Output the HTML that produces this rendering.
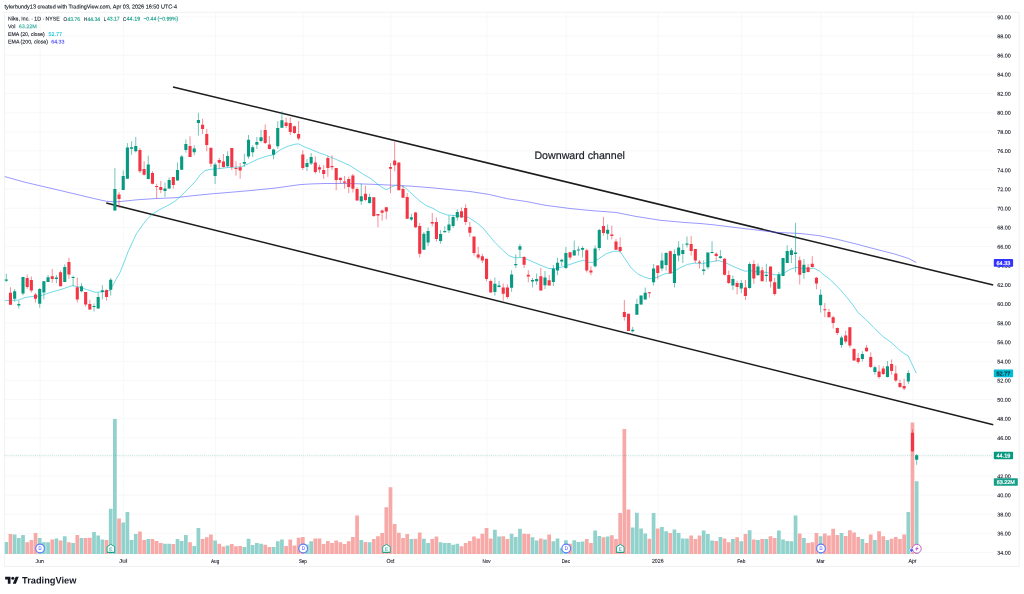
<!DOCTYPE html>
<html><head><meta charset="utf-8"><title>NKE chart</title>
<style>
html,body{margin:0;padding:0;background:#fff;}
body{width:1024px;height:594px;overflow:hidden;font-family:"Liberation Sans",sans-serif;}
svg{display:block;filter:blur(0.35px);}
text{font-family:"Liberation Sans",sans-serif;}
</style></head><body>
<svg width="1024" height="594" viewBox="0 0 1024 594">
<rect width="1024" height="594" fill="#ffffff"/>

<rect x="4.7" y="12.2" width="1014.4" height="554.4" fill="none" stroke="#ebecef" stroke-width="0.75"/>
<path d="M40.11 12.3V554.5 M123.63 12.3V554.5 M215.50 12.3V554.5 M303.20 12.3V554.5 M390.89 12.3V554.5 M486.94 12.3V554.5 M566.28 12.3V554.5 M658.16 12.3V554.5 M741.68 12.3V554.5 M821.02 12.3V554.5 M912.89 12.3V554.5 M4.8 552.50H993 M4.8 533.38H993 M4.8 514.25H993 M4.8 495.12H993 M4.8 476.00H993 M4.8 456.88H993 M4.8 437.75H993 M4.8 418.62H993 M4.8 399.50H993 M4.8 380.38H993 M4.8 361.25H993 M4.8 342.12H993 M4.8 323.00H993 M4.8 303.88H993 M4.8 284.75H993 M4.8 265.62H993 M4.8 246.50H993 M4.8 227.38H993 M4.8 208.25H993 M4.8 189.12H993 M4.8 170.00H993 M4.8 150.88H993 M4.8 131.75H993 M4.8 112.62H993 M4.8 93.50H993 M4.8 74.38H993 M4.8 55.25H993 M4.8 36.12H993 M4.8 17.00H993" stroke="#f4f5f8" stroke-width="0.7" fill="none"/>
<path d="M4.80 554.1V541.88h3.36V554.1zM12.79 554.1V534.62h3.72V554.1zM16.97 554.1V537.88h3.72V554.1zM21.14 554.1V535.00h3.72V554.1zM37.85 554.1V537.88h3.72V554.1zM42.02 554.1V542.25h3.72V554.1zM46.20 554.1V542.25h3.72V554.1zM54.55 554.1V538.50h3.72V554.1zM62.90 554.1V536.25h3.72V554.1zM71.26 554.1V543.12h3.72V554.1zM79.61 554.1V538.12h3.72V554.1zM92.14 554.1V531.88h3.72V554.1zM96.31 554.1V535.62h3.72V554.1zM100.49 554.1V539.62h3.72V554.1zM108.84 554.1V508.75h3.72V554.1zM113.02 554.1V419.00h3.72V554.1zM121.37 554.1V522.50h3.72V554.1zM125.54 554.1V511.88h3.72V554.1zM129.72 554.1V540.00h3.72V554.1zM133.90 554.1V534.00h3.72V554.1zM146.42 554.1V539.12h3.72V554.1zM163.13 554.1V543.75h3.72V554.1zM167.30 554.1V543.75h3.72V554.1zM175.66 554.1V539.12h3.72V554.1zM179.83 554.1V541.00h3.72V554.1zM184.01 554.1V535.00h3.72V554.1zM192.36 554.1V546.00h3.72V554.1zM196.54 554.1V527.88h3.72V554.1zM213.24 554.1V540.38h3.72V554.1zM225.77 554.1V545.62h3.72V554.1zM242.47 554.1V546.88h3.72V554.1zM246.65 554.1V538.75h3.72V554.1zM250.82 554.1V545.00h3.72V554.1zM255.00 554.1V543.12h3.72V554.1zM259.18 554.1V543.75h3.72V554.1zM271.70 554.1V546.88h3.72V554.1zM275.88 554.1V541.25h3.72V554.1zM280.06 554.1V539.62h3.72V554.1zM305.11 554.1V544.38h3.72V554.1zM309.29 554.1V541.25h3.72V554.1zM359.40 554.1V540.00h3.72V554.1zM367.75 554.1V542.25h3.72V554.1zM409.51 554.1V539.12h3.72V554.1zM422.04 554.1V538.75h3.72V554.1zM426.22 554.1V543.12h3.72V554.1zM438.74 554.1V542.25h3.72V554.1zM442.92 554.1V543.12h3.72V554.1zM447.10 554.1V542.88h3.72V554.1zM451.27 554.1V544.75h3.72V554.1zM455.45 554.1V543.75h3.72V554.1zM493.03 554.1V529.75h3.72V554.1zM497.21 554.1V536.50h3.72V554.1zM509.74 554.1V533.75h3.72V554.1zM513.91 554.1V537.12h3.72V554.1zM518.09 554.1V528.75h3.72V554.1zM530.62 554.1V537.25h3.72V554.1zM534.79 554.1V540.38h3.72V554.1zM543.14 554.1V539.62h3.72V554.1zM551.50 554.1V541.25h3.72V554.1zM555.67 554.1V538.38h3.72V554.1zM559.85 554.1V548.12h3.72V554.1zM564.02 554.1V540.25h3.72V554.1zM572.38 554.1V540.25h3.72V554.1zM576.55 554.1V542.12h3.72V554.1zM580.73 554.1V541.50h3.72V554.1zM593.26 554.1V530.62h3.72V554.1zM597.43 554.1V535.88h3.72V554.1zM605.78 554.1V536.50h3.72V554.1zM630.84 554.1V527.50h3.72V554.1zM635.02 554.1V512.75h3.72V554.1zM639.19 554.1V528.50h3.72V554.1zM643.37 554.1V533.38h3.72V554.1zM651.72 554.1V513.12h3.72V554.1zM660.07 554.1V527.12h3.72V554.1zM664.25 554.1V531.25h3.72V554.1zM672.60 554.1V529.38h3.72V554.1zM676.78 554.1V533.12h3.72V554.1zM680.95 554.1V538.38h3.72V554.1zM685.13 554.1V538.38h3.72V554.1zM701.83 554.1V530.62h3.72V554.1zM706.01 554.1V534.12h3.72V554.1zM710.18 554.1V540.62h3.72V554.1zM718.54 554.1V537.12h3.72V554.1zM731.06 554.1V539.12h3.72V554.1zM739.42 554.1V541.25h3.72V554.1zM747.77 554.1V530.25h3.72V554.1zM756.12 554.1V540.00h3.72V554.1zM764.47 554.1V539.12h3.72V554.1zM777.00 554.1V530.62h3.72V554.1zM781.18 554.1V539.62h3.72V554.1zM785.35 554.1V541.00h3.72V554.1zM789.53 554.1V541.25h3.72V554.1zM793.70 554.1V515.62h3.72V554.1zM802.06 554.1V537.88h3.72V554.1zM818.76 554.1V536.25h3.72V554.1zM839.64 554.1V533.12h3.72V554.1zM860.52 554.1V539.12h3.72V554.1zM873.05 554.1V540.00h3.72V554.1zM885.58 554.1V540.00h3.72V554.1zM906.46 554.1V512.12h3.72V554.1zM914.81 554.1V481.25h3.72V554.1z" fill="#92d2cc"/>
<path d="M8.62 554.1V534.00h3.72V554.1zM25.32 554.1V542.25h3.72V554.1zM29.50 554.1V540.00h3.72V554.1zM33.67 554.1V533.12h3.72V554.1zM50.38 554.1V539.38h3.72V554.1zM58.73 554.1V540.38h3.72V554.1zM67.08 554.1V542.25h3.72V554.1zM75.43 554.1V535.00h3.72V554.1zM83.78 554.1V538.12h3.72V554.1zM87.96 554.1V537.75h3.72V554.1zM104.66 554.1V540.00h3.72V554.1zM117.19 554.1V518.50h3.72V554.1zM138.07 554.1V531.50h3.72V554.1zM142.25 554.1V540.00h3.72V554.1zM150.60 554.1V539.12h3.72V554.1zM154.78 554.1V541.00h3.72V554.1zM158.95 554.1V543.12h3.72V554.1zM171.48 554.1V544.12h3.72V554.1zM188.18 554.1V542.25h3.72V554.1zM200.71 554.1V539.12h3.72V554.1zM204.89 554.1V537.25h3.72V554.1zM209.06 554.1V534.62h3.72V554.1zM217.42 554.1V543.75h3.72V554.1zM221.59 554.1V546.50h3.72V554.1zM229.94 554.1V544.00h3.72V554.1zM234.12 554.1V546.25h3.72V554.1zM238.30 554.1V545.88h3.72V554.1zM263.35 554.1V544.75h3.72V554.1zM267.53 554.1V546.88h3.72V554.1zM284.23 554.1V545.88h3.72V554.1zM288.41 554.1V539.62h3.72V554.1zM292.58 554.1V545.38h3.72V554.1zM296.76 554.1V537.75h3.72V554.1zM300.94 554.1V537.12h3.72V554.1zM313.46 554.1V538.38h3.72V554.1zM317.64 554.1V538.38h3.72V554.1zM321.82 554.1V544.00h3.72V554.1zM325.99 554.1V541.00h3.72V554.1zM330.17 554.1V543.12h3.72V554.1zM334.34 554.1V540.38h3.72V554.1zM338.52 554.1V542.25h3.72V554.1zM342.70 554.1V544.00h3.72V554.1zM346.87 554.1V541.25h3.72V554.1zM351.05 554.1V537.12h3.72V554.1zM355.22 554.1V515.62h3.72V554.1zM363.58 554.1V541.88h3.72V554.1zM371.93 554.1V539.00h3.72V554.1zM376.10 554.1V536.25h3.72V554.1zM380.28 554.1V533.12h3.72V554.1zM384.46 554.1V507.25h3.72V554.1zM388.63 554.1V487.25h3.72V554.1zM392.81 554.1V524.00h3.72V554.1zM396.98 554.1V532.75h3.72V554.1zM401.16 554.1V538.12h3.72V554.1zM405.34 554.1V534.12h3.72V554.1zM413.69 554.1V538.75h3.72V554.1zM417.86 554.1V532.50h3.72V554.1zM430.39 554.1V539.12h3.72V554.1zM434.57 554.1V536.50h3.72V554.1zM459.62 554.1V546.25h3.72V554.1zM463.80 554.1V543.12h3.72V554.1zM467.98 554.1V541.00h3.72V554.1zM472.15 554.1V536.50h3.72V554.1zM476.33 554.1V538.50h3.72V554.1zM480.50 554.1V533.75h3.72V554.1zM484.68 554.1V527.88h3.72V554.1zM488.86 554.1V538.38h3.72V554.1zM501.38 554.1V536.25h3.72V554.1zM505.56 554.1V539.12h3.72V554.1zM522.26 554.1V533.75h3.72V554.1zM526.44 554.1V534.12h3.72V554.1zM538.97 554.1V538.38h3.72V554.1zM547.32 554.1V534.62h3.72V554.1zM568.20 554.1V543.75h3.72V554.1zM584.90 554.1V539.12h3.72V554.1zM589.08 554.1V543.12h3.72V554.1zM601.61 554.1V537.25h3.72V554.1zM609.96 554.1V535.25h3.72V554.1zM614.14 554.1V539.00h3.72V554.1zM618.31 554.1V513.12h3.72V554.1zM622.49 554.1V429.00h3.72V554.1zM626.66 554.1V509.62h3.72V554.1zM647.54 554.1V538.75h3.72V554.1zM655.90 554.1V528.50h3.72V554.1zM668.42 554.1V532.88h3.72V554.1zM689.30 554.1V535.62h3.72V554.1zM693.48 554.1V539.00h3.72V554.1zM697.66 554.1V535.62h3.72V554.1zM714.36 554.1V541.00h3.72V554.1zM722.71 554.1V538.38h3.72V554.1zM726.89 554.1V542.25h3.72V554.1zM735.24 554.1V537.25h3.72V554.1zM743.59 554.1V534.00h3.72V554.1zM751.94 554.1V539.62h3.72V554.1zM760.30 554.1V539.12h3.72V554.1zM768.65 554.1V536.25h3.72V554.1zM772.82 554.1V538.12h3.72V554.1zM797.88 554.1V533.50h3.72V554.1zM806.23 554.1V543.12h3.72V554.1zM810.41 554.1V542.25h3.72V554.1zM814.58 554.1V533.12h3.72V554.1zM822.94 554.1V533.50h3.72V554.1zM827.11 554.1V535.62h3.72V554.1zM831.29 554.1V528.75h3.72V554.1zM835.46 554.1V535.00h3.72V554.1zM843.82 554.1V536.00h3.72V554.1zM847.99 554.1V530.25h3.72V554.1zM852.17 554.1V532.50h3.72V554.1zM856.34 554.1V537.12h3.72V554.1zM864.70 554.1V542.88h3.72V554.1zM868.87 554.1V534.38h3.72V554.1zM877.22 554.1V531.25h3.72V554.1zM881.40 554.1V536.25h3.72V554.1zM889.75 554.1V538.75h3.72V554.1zM893.93 554.1V537.12h3.72V554.1zM898.10 554.1V539.12h3.72V554.1zM902.28 554.1V534.38h3.72V554.1zM910.63 554.1V422.50h3.72V554.1z" fill="#f7a9a7"/>
<path d="M4.8 455.3H993" stroke="#089981" stroke-width="0.7" stroke-dasharray="0.8 1.1" opacity="0.45" fill="none"/>
<path d="M173 87L993.25 285M106.25 203L993.25 424.75" stroke="#1c1c1c" stroke-width="1.55" fill="none" stroke-linecap="butt"/>
<path d="M4.75 176.60 L25.00 182.25 L50.00 188.10 L75.00 194.00 L93.75 198.50 L106.25 201.25 L112.50 201.70 L118.00 201.80 L125.00 201.00 L137.50 199.75 L156.25 198.50 L175.00 197.75 L193.75 195.60 L212.50 193.75 L225.00 192.75 L250.00 190.60 L275.00 188.10 L300.00 184.60 L312.00 183.90 L325.00 183.50 L350.00 183.50 L375.00 184.40 L393.75 185.25 L412.50 186.25 L428.00 187.50 L435.00 188.10 L460.00 190.60 L470.00 191.50 L488.75 194.40 L507.50 198.75 L526.25 201.50 L545.00 205.25 L570.00 208.50 L585.00 210.00 L598.00 211.10 L616.25 212.50 L635.00 216.25 L660.00 220.25 L685.00 222.50 L700.00 223.50 L713.00 224.75 L737.50 227.75 L775.00 232.25 L800.00 233.50 L818.75 235.60 L837.50 239.40 L856.25 244.00 L875.00 249.00 L893.75 253.75 L908.75 258.50 L916.25 262.50" stroke="#4a4aff" stroke-width="0.75" fill="none" opacity="0.75" stroke-linejoin="round"/>
<path d="M4.75 300.60 L18.75 300.00 L25.00 297.50 L32.50 296.50 L40.00 296.00 L50.00 292.50 L60.00 289.75 L72.50 285.60 L80.00 287.25 L87.50 289.75 L95.00 292.25 L102.50 291.90 L110.00 290.60 L115.00 281.25 L120.00 272.50 L125.00 260.00 L128.00 251.90 L136.25 234.00 L142.50 225.00 L147.50 218.75 L152.50 214.00 L160.00 209.40 L167.50 205.60 L175.00 201.25 L180.00 196.90 L187.50 189.40 L195.00 181.90 L200.00 175.00 L205.00 170.60 L210.00 169.40 L217.50 168.75 L228.50 167.50 L241.00 166.90 L248.50 163.75 L257.25 159.40 L266.00 156.25 L273.50 154.75 L281.00 149.40 L288.50 146.00 L296.00 144.00 L299.00 144.00 L303.50 146.50 L311.00 149.40 L319.75 153.10 L325.00 154.75 L337.50 160.00 L350.00 165.60 L362.50 173.75 L371.25 179.00 L380.00 186.00 L386.25 189.75 L391.25 187.25 L396.25 185.00 L400.00 185.25 L405.00 187.50 L412.50 194.40 L420.00 201.25 L426.25 205.60 L432.50 208.10 L440.00 212.50 L447.50 215.00 L455.00 215.60 L462.50 216.25 L468.75 217.50 L476.25 222.50 L482.50 227.50 L488.75 235.00 L495.00 242.50 L502.50 250.00 L508.75 255.60 L515.00 257.75 L522.50 257.50 L530.00 260.60 L540.00 265.00 L548.75 268.50 L555.00 268.50 L562.50 266.90 L570.00 264.40 L577.50 261.90 L583.10 260.25 L588.75 262.25 L592.50 262.50 L598.75 258.75 L606.25 253.75 L613.75 251.25 L620.00 251.25 L625.00 258.75 L631.25 268.10 L637.50 273.75 L643.75 276.90 L650.00 278.75 L656.25 277.50 L665.00 273.75 L672.50 272.50 L680.00 267.75 L687.50 264.40 L695.00 263.10 L702.50 263.75 L710.00 261.90 L718.75 260.60 L725.00 262.50 L735.00 267.25 L745.00 271.25 L750.00 270.60 L757.50 271.90 L767.50 272.50 L775.00 275.00 L782.50 274.00 L790.00 269.40 L795.60 267.25 L800.00 268.10 L807.50 268.75 L813.75 268.10 L820.00 271.25 L822.50 273.75 L830.00 279.40 L837.50 286.90 L845.00 295.00 L852.50 304.40 L858.00 312.50 L866.25 320.00 L873.75 327.50 L882.50 336.25 L891.25 342.50 L898.75 349.40 L903.75 353.50 L908.10 355.60 L911.25 362.50 L916.25 373.10" stroke="#22c4dc" stroke-width="0.8" fill="none" opacity="0.8" stroke-linejoin="round"/>
<path d="M6.30 273.75V282.25M14.65 289.00V301.88M18.83 300.62V308.50M23.00 276.88V295.25M39.71 288.12V307.75M43.88 281.25V299.38M48.06 275.00V281.88M56.41 275.00V283.12M64.76 264.38V281.88M73.12 275.62V286.25M81.47 283.12V292.25M94.00 303.50V311.50M98.17 292.50V309.00M102.35 285.25V299.38M110.70 278.12V295.62M114.88 168.10V210.60M123.23 170.60V190.00M127.40 143.10V178.75M131.58 141.25V154.75M135.76 136.90V152.50M148.28 155.60V179.40M164.99 182.50V196.90M169.16 177.50V189.00M177.52 162.50V180.60M181.69 155.00V169.75M185.87 139.40V152.75M194.22 145.25V155.25M198.40 112.75V135.60M215.10 162.50V184.00M227.63 151.25V167.50M244.33 153.75V166.90M248.51 135.00V158.75M252.68 145.25V156.90M256.86 136.90V149.00M261.04 129.75V142.50M273.56 148.75V159.40M277.74 121.00V148.75M281.92 111.25V127.75M306.97 159.00V171.00M311.15 153.10V165.00M361.26 183.75V204.75M369.61 193.75V203.75M411.37 213.75V221.00M423.90 231.90V250.00M428.08 227.50V246.00M440.60 230.00V243.75M444.78 226.25V232.50M448.96 215.60V233.00M453.13 215.00V227.75M457.31 209.40V220.60M494.89 277.50V295.60M499.07 281.00V287.50M511.60 270.25V291.90M515.77 254.40V268.00M519.95 244.00V257.25M532.48 278.00V287.50M536.65 273.50V284.75M545.00 271.00V289.00M553.36 265.00V286.00M557.53 257.75V275.25M561.71 258.75V266.00M565.88 246.90V269.00M574.24 240.60V255.60M578.41 246.25V255.60M582.59 246.25V257.50M595.12 245.60V267.50M599.29 228.75V250.60M607.64 224.40V239.75M632.70 326.90V332.50M636.88 298.75V314.75M641.05 295.60V305.00M645.23 287.50V299.40M653.58 264.00V285.60M661.93 252.75V271.25M666.11 252.25V270.60M674.46 249.40V287.50M678.64 241.25V261.50M682.81 243.75V263.00M686.99 236.50V247.50M703.69 260.25V275.00M707.87 252.50V269.40M712.04 241.25V253.50M720.40 250.00V258.75M732.92 275.60V290.00M741.28 280.00V293.10M749.63 262.25V288.75M757.98 263.50V275.60M766.33 263.75V281.90M778.86 271.90V288.75M783.04 258.10V276.00M787.21 245.25V263.10M791.39 248.10V263.10M795.56 222.75V272.25M803.92 259.00V278.75M820.62 289.40V312.50M841.50 335.60V347.75M862.38 351.25V361.50M874.91 365.60V374.75M887.44 361.00V377.50M908.32 370.25V383.75M916.67 454.00V464.75" stroke="#089981" stroke-width="0.7" fill="none" opacity="0.8"/>
<path d="M10.48 287.25V304.75M27.18 274.38V288.75M31.36 276.50V292.50M35.53 293.12V302.50M52.24 269.00V282.75M60.59 270.62V286.25M68.94 257.75V278.75M77.29 277.50V302.50M85.64 291.88V306.50M89.82 300.00V310.00M106.52 289.38V300.62M119.05 191.90V208.10M139.93 148.10V173.10M144.11 161.25V175.60M152.46 171.25V184.40M156.64 183.75V198.50M160.81 181.00V193.10M173.34 176.90V188.50M190.04 136.25V156.90M202.57 118.75V134.00M206.75 129.00V151.25M210.92 147.75V166.90M219.28 157.75V168.75M223.45 154.00V167.50M231.80 148.10V170.00M235.98 161.25V175.60M240.16 162.75V178.75M265.21 124.40V144.00M269.39 136.00V149.40M286.09 117.50V128.10M290.27 117.25V135.00M294.44 125.60V134.00M298.62 121.00V140.25M302.80 150.25V170.00M315.32 156.50V173.75M319.50 164.75V172.75M323.68 165.00V179.00M327.85 156.00V176.90M332.03 155.25V170.00M336.20 167.90V190.25M340.38 177.75V183.50M344.56 176.00V188.75M348.73 176.50V193.10M352.91 174.00V192.50M357.08 187.25V200.60M365.44 185.60V201.25M373.79 197.25V216.90M377.96 214.10V227.25M382.14 209.40V220.60M386.32 206.90V219.40M390.49 163.10V193.10M394.67 141.90V171.25M398.84 162.50V190.25M403.02 185.25V198.10M407.20 193.10V218.75M415.55 211.90V228.10M419.72 223.00V257.50M432.25 213.00V226.25M436.43 217.50V241.50M461.48 207.50V218.00M465.66 204.40V225.00M469.84 221.90V236.90M474.01 236.50V255.60M478.19 246.90V259.40M482.36 253.75V263.10M486.54 258.75V281.25M490.72 279.40V292.50M503.24 283.50V300.60M507.42 284.40V298.75M524.12 256.00V268.00M528.30 270.25V282.25M540.83 267.75V290.60M549.18 275.00V285.60M570.06 251.90V259.75M586.76 248.75V272.50M590.94 266.25V275.25M603.47 216.90V235.60M611.82 225.60V239.40M616.00 239.00V249.75M620.17 237.25V252.50M624.35 300.00V320.60M628.52 313.75V331.00M649.40 292.25V297.75M657.76 265.00V279.40M670.28 250.25V273.50M691.16 236.00V255.60M695.34 249.00V263.00M699.52 260.00V268.50M716.22 252.25V261.25M724.57 258.10V275.60M728.75 270.60V284.00M737.10 280.60V294.40M745.45 280.00V300.00M753.80 260.25V283.75M762.16 266.90V281.25M770.51 266.50V287.50M774.68 277.75V295.60M799.74 256.50V284.40M808.09 263.75V272.50M812.27 256.00V267.50M816.44 276.90V289.40M824.80 303.10V317.25M828.97 309.00V317.25M833.15 316.00V328.50M837.32 327.50V335.00M845.68 330.60V343.50M849.85 327.25V347.75M854.03 348.10V360.60M858.20 353.10V363.75M866.56 345.00V351.90M870.73 352.25V368.10M879.08 365.25V378.75M883.26 366.00V375.00M891.61 359.40V374.75M895.79 365.60V381.90M899.96 379.75V388.10M904.14 378.75V390.25M912.49 429.40V452.00" stroke="#f23645" stroke-width="0.7" fill="none" opacity="0.8"/>
<path d="M4.75 279.50h3.1V280.75h-3.1zM13.10 291.25h3.1V298.75h-3.1zM17.28 304.00h3.1V305.50h-3.1zM21.45 276.88h3.1V293.50h-3.1zM38.16 289.00h3.1V303.75h-3.1zM42.33 281.25h3.1V292.50h-3.1zM46.51 277.25h3.1V281.88h-3.1zM54.86 277.50h3.1V279.00h-3.1zM63.21 267.12h3.1V281.88h-3.1zM71.57 276.88h3.1V278.12h-3.1zM79.92 286.25h3.1V291.25h-3.1zM92.45 305.88h3.1V306.88h-3.1zM96.62 297.12h3.1V308.50h-3.1zM100.80 290.25h3.1V291.88h-3.1zM109.15 279.75h3.1V289.75h-3.1zM113.33 189.00h3.1V210.60h-3.1zM121.68 176.00h3.1V190.00h-3.1zM125.85 147.50h3.1V178.75h-3.1zM130.03 147.25h3.1V148.75h-3.1zM134.21 146.00h3.1V151.25h-3.1zM146.73 164.40h3.1V179.00h-3.1zM163.44 188.50h3.1V191.00h-3.1zM167.61 180.00h3.1V188.50h-3.1zM175.97 170.00h3.1V180.60h-3.1zM180.14 156.50h3.1V169.75h-3.1zM184.32 144.00h3.1V150.00h-3.1zM192.67 148.50h3.1V152.25h-3.1zM196.85 120.00h3.1V122.90h-3.1zM213.55 164.40h3.1V176.00h-3.1zM226.08 156.00h3.1V166.25h-3.1zM242.78 161.90h3.1V163.75h-3.1zM246.96 139.75h3.1V156.50h-3.1zM251.13 147.25h3.1V152.25h-3.1zM255.31 141.90h3.1V144.75h-3.1zM259.49 137.25h3.1V141.00h-3.1zM272.01 149.40h3.1V154.75h-3.1zM276.19 128.10h3.1V146.25h-3.1zM280.37 120.25h3.1V127.75h-3.1zM305.42 163.10h3.1V166.90h-3.1zM309.60 156.90h3.1V163.50h-3.1zM359.71 196.25h3.1V201.25h-3.1zM368.06 196.90h3.1V203.10h-3.1zM409.82 217.25h3.1V219.40h-3.1zM422.35 233.75h3.1V249.75h-3.1zM426.53 231.00h3.1V242.50h-3.1zM439.05 234.00h3.1V241.00h-3.1zM443.23 231.00h3.1V232.25h-3.1zM447.41 224.40h3.1V230.60h-3.1zM451.58 216.90h3.1V226.00h-3.1zM455.76 211.90h3.1V217.50h-3.1zM493.34 283.75h3.1V291.90h-3.1zM497.52 285.60h3.1V286.90h-3.1zM510.05 274.40h3.1V287.75h-3.1zM514.22 264.00h3.1V265.25h-3.1zM518.40 246.25h3.1V249.75h-3.1zM530.93 280.00h3.1V281.50h-3.1zM535.10 279.00h3.1V281.25h-3.1zM543.45 277.50h3.1V285.25h-3.1zM551.81 268.75h3.1V281.90h-3.1zM555.98 262.75h3.1V270.60h-3.1zM560.16 259.75h3.1V261.50h-3.1zM564.33 253.10h3.1V268.10h-3.1zM572.69 250.25h3.1V255.60h-3.1zM576.86 249.40h3.1V250.60h-3.1zM581.04 248.10h3.1V249.75h-3.1zM593.57 248.50h3.1V266.25h-3.1zM597.74 230.00h3.1V248.10h-3.1zM606.09 229.75h3.1V233.75h-3.1zM631.15 329.75h3.1V331.25h-3.1zM635.33 304.00h3.1V314.75h-3.1zM639.50 295.60h3.1V304.40h-3.1zM643.68 292.75h3.1V299.40h-3.1zM652.03 268.50h3.1V282.25h-3.1zM660.38 260.60h3.1V268.50h-3.1zM664.56 253.10h3.1V265.00h-3.1zM672.91 254.00h3.1V283.10h-3.1zM677.09 247.50h3.1V255.60h-3.1zM681.26 250.00h3.1V254.00h-3.1zM685.44 243.50h3.1V244.75h-3.1zM702.14 269.40h3.1V271.00h-3.1zM706.32 252.50h3.1V267.25h-3.1zM710.49 251.90h3.1V253.10h-3.1zM718.85 256.25h3.1V258.10h-3.1zM731.37 279.00h3.1V285.60h-3.1zM739.73 283.10h3.1V288.50h-3.1zM748.08 264.00h3.1V288.10h-3.1zM756.43 266.50h3.1V275.25h-3.1zM764.78 274.75h3.1V276.00h-3.1zM777.31 274.40h3.1V288.75h-3.1zM781.49 258.10h3.1V276.00h-3.1zM785.66 251.00h3.1V263.10h-3.1zM789.84 250.25h3.1V255.00h-3.1zM794.01 252.50h3.1V254.00h-3.1zM802.37 264.75h3.1V273.10h-3.1zM819.07 294.75h3.1V305.25h-3.1zM839.95 337.50h3.1V345.00h-3.1zM860.83 354.00h3.1V359.00h-3.1zM873.36 367.25h3.1V371.90h-3.1zM885.89 366.25h3.1V376.90h-3.1zM906.77 373.10h3.1V381.50h-3.1zM915.12 455.25h3.1V459.75h-3.1z" fill="#089981"/>
<path d="M8.93 292.75h3.1V304.75h-3.1zM25.63 278.12h3.1V286.88h-3.1zM29.81 280.00h3.1V290.62h-3.1zM33.98 294.38h3.1V298.75h-3.1zM50.69 276.25h3.1V279.00h-3.1zM59.04 272.25h3.1V286.25h-3.1zM67.39 262.00h3.1V274.62h-3.1zM75.74 287.25h3.1V299.38h-3.1zM84.09 291.88h3.1V304.38h-3.1zM88.27 304.00h3.1V309.38h-3.1zM104.97 290.00h3.1V296.88h-3.1zM117.50 194.40h3.1V199.00h-3.1zM138.38 150.00h3.1V171.25h-3.1zM142.56 169.00h3.1V174.75h-3.1zM150.91 173.10h3.1V183.75h-3.1zM155.09 185.90h3.1V187.10h-3.1zM159.26 186.90h3.1V190.00h-3.1zM171.79 176.90h3.1V185.00h-3.1zM188.49 146.00h3.1V156.90h-3.1zM201.02 124.75h3.1V129.00h-3.1zM205.20 134.00h3.1V145.00h-3.1zM209.37 147.75h3.1V163.75h-3.1zM217.73 160.00h3.1V162.75h-3.1zM221.90 161.50h3.1V166.90h-3.1zM230.25 148.10h3.1V166.90h-3.1zM234.43 167.90h3.1V169.00h-3.1zM238.61 167.25h3.1V170.60h-3.1zM263.66 130.00h3.1V143.10h-3.1zM267.84 144.40h3.1V149.00h-3.1zM284.54 122.50h3.1V126.00h-3.1zM288.72 123.10h3.1V131.90h-3.1zM292.89 126.25h3.1V133.10h-3.1zM297.07 134.00h3.1V138.50h-3.1zM301.25 154.40h3.1V167.90h-3.1zM313.77 162.50h3.1V171.90h-3.1zM317.95 167.25h3.1V169.40h-3.1zM322.13 170.00h3.1V174.00h-3.1zM326.30 158.10h3.1V168.10h-3.1zM330.48 166.00h3.1V167.25h-3.1zM334.65 167.90h3.1V180.00h-3.1zM338.83 177.75h3.1V180.00h-3.1zM343.01 181.50h3.1V182.75h-3.1zM347.18 179.00h3.1V186.90h-3.1zM351.36 175.60h3.1V188.75h-3.1zM355.53 189.00h3.1V200.60h-3.1zM363.89 193.75h3.1V200.00h-3.1zM372.24 197.25h3.1V216.00h-3.1zM376.41 214.10h3.1V215.60h-3.1zM380.59 210.60h3.1V212.75h-3.1zM384.77 207.25h3.1V211.50h-3.1zM388.94 166.90h3.1V168.75h-3.1zM393.12 160.60h3.1V165.25h-3.1zM397.29 162.50h3.1V190.25h-3.1zM401.47 189.00h3.1V197.75h-3.1zM405.65 196.90h3.1V218.75h-3.1zM414.00 212.50h3.1V227.25h-3.1zM418.17 226.00h3.1V253.75h-3.1zM430.70 221.90h3.1V223.50h-3.1zM434.88 221.90h3.1V239.00h-3.1zM459.93 211.25h3.1V217.50h-3.1zM464.11 208.00h3.1V221.90h-3.1zM468.29 226.90h3.1V232.75h-3.1zM472.46 236.50h3.1V253.10h-3.1zM476.64 254.40h3.1V257.50h-3.1zM480.81 256.25h3.1V260.60h-3.1zM484.99 258.75h3.1V279.00h-3.1zM489.17 281.00h3.1V292.50h-3.1zM501.69 287.50h3.1V293.75h-3.1zM505.87 287.50h3.1V296.90h-3.1zM522.57 256.90h3.1V264.75h-3.1zM526.75 274.75h3.1V276.50h-3.1zM539.28 276.25h3.1V290.60h-3.1zM547.63 280.25h3.1V285.60h-3.1zM568.51 252.25h3.1V257.50h-3.1zM585.21 250.25h3.1V270.60h-3.1zM589.39 270.60h3.1V272.50h-3.1zM601.92 226.00h3.1V233.10h-3.1zM610.27 234.40h3.1V236.00h-3.1zM614.45 241.50h3.1V249.75h-3.1zM618.62 246.90h3.1V251.00h-3.1zM622.80 311.90h3.1V316.90h-3.1zM626.97 313.75h3.1V331.00h-3.1zM647.85 292.18h3.1V293.18h-3.1zM656.21 265.60h3.1V273.10h-3.1zM668.73 251.25h3.1V273.50h-3.1zM689.61 244.00h3.1V251.00h-3.1zM693.79 249.00h3.1V260.60h-3.1zM697.97 261.82h3.1V262.82h-3.1zM714.67 253.75h3.1V256.00h-3.1zM723.02 258.75h3.1V274.75h-3.1zM727.20 275.00h3.1V283.10h-3.1zM735.55 282.90h3.1V286.90h-3.1zM743.90 287.50h3.1V296.00h-3.1zM752.25 264.00h3.1V278.50h-3.1zM760.61 270.25h3.1V281.25h-3.1zM768.96 266.50h3.1V281.50h-3.1zM773.13 282.25h3.1V294.00h-3.1zM798.19 260.25h3.1V274.75h-3.1zM806.54 267.25h3.1V271.90h-3.1zM810.72 263.75h3.1V266.90h-3.1zM814.89 277.75h3.1V283.50h-3.1zM823.25 309.32h3.1V310.32h-3.1zM827.42 311.90h3.1V317.25h-3.1zM831.60 317.25h3.1V323.10h-3.1zM835.77 328.10h3.1V333.10h-3.1zM844.13 335.60h3.1V341.50h-3.1zM848.30 327.25h3.1V345.60h-3.1zM852.48 349.00h3.1V360.60h-3.1zM856.65 358.10h3.1V361.90h-3.1zM865.01 347.75h3.1V351.25h-3.1zM869.18 356.90h3.1V366.90h-3.1zM877.53 371.50h3.1V376.90h-3.1zM881.71 368.50h3.1V374.00h-3.1zM890.06 364.00h3.1V371.00h-3.1zM894.24 373.50h3.1V380.60h-3.1zM898.41 383.10h3.1V386.90h-3.1zM902.59 386.00h3.1V388.50h-3.1zM910.94 432.75h3.1V451.25h-3.1z" fill="#f23645"/>
<text x="534.4" y="159" font-size="10.8" fill="#1a1d26" stroke="#1a1d26" stroke-width="0.2" textLength="90.6" lengthAdjust="spacingAndGlyphs" transform="rotate(0.03 534.4 159)">Downward channel</text>
<text x="4.6" y="8.45" font-size="5.6" fill="#131722" textLength="172.4" lengthAdjust="spacingAndGlyphs" stroke="#131722" stroke-width="0.1" transform="rotate(0.03 4.6 8.45)">tylerbundy13 created with TradingView.com, Apr 03, 2026 16:50 UTC-4</text>
<text x="8.1" y="20.6" font-size="5.4" fill="#131722" textLength="51.6" lengthAdjust="spacingAndGlyphs" stroke="#131722" stroke-width="0.1" transform="rotate(0.03 8.1 20.6)">Nike, Inc. · 1D · NYSE</text>
<text x="63.5" y="20.6" font-size="5.4" fill="#131722" textLength="3.4" lengthAdjust="spacingAndGlyphs" stroke="#131722" stroke-width="0.1" transform="rotate(0.03 63.5 20.6)">O</text>
<text x="67.5" y="20.6" font-size="5.4" fill="#089981" textLength="12.5" lengthAdjust="spacingAndGlyphs" stroke="#089981" stroke-width="0.1" transform="rotate(0.03 67.5 20.6)">43.76</text>
<text x="84" y="20.6" font-size="5.4" fill="#131722" textLength="3.0" lengthAdjust="spacingAndGlyphs" stroke="#131722" stroke-width="0.1" transform="rotate(0.03 84 20.6)">H</text>
<text x="87.5" y="20.6" font-size="5.4" fill="#089981" textLength="12.5" lengthAdjust="spacingAndGlyphs" stroke="#089981" stroke-width="0.1" transform="rotate(0.03 87.5 20.6)">44.34</text>
<text x="104" y="20.6" font-size="5.4" fill="#131722" textLength="2.2" lengthAdjust="spacingAndGlyphs" stroke="#131722" stroke-width="0.1" transform="rotate(0.03 104 20.6)">L</text>
<text x="106.9" y="20.6" font-size="5.4" fill="#089981" textLength="12.8" lengthAdjust="spacingAndGlyphs" stroke="#089981" stroke-width="0.1" transform="rotate(0.03 106.9 20.6)">43.17</text>
<text x="123" y="20.6" font-size="5.4" fill="#131722" textLength="3.2" lengthAdjust="spacingAndGlyphs" stroke="#131722" stroke-width="0.1" transform="rotate(0.03 123 20.6)">C</text>
<text x="126.6" y="20.6" font-size="5.4" fill="#089981" textLength="13.6" lengthAdjust="spacingAndGlyphs" stroke="#089981" stroke-width="0.1" transform="rotate(0.03 126.6 20.6)">44.19</text>
<text x="143.4" y="20.6" font-size="5.4" fill="#089981" textLength="34.9" lengthAdjust="spacingAndGlyphs" stroke="#089981" stroke-width="0.1" transform="rotate(0.03 143.4 20.6)">−0.44 (−0.99%)</text>
<text x="8.1" y="28.3" font-size="5.4" fill="#131722" textLength="7.3" lengthAdjust="spacingAndGlyphs" stroke="#131722" stroke-width="0.1" transform="rotate(0.03 8.1 28.3)">Vol</text>
<text x="18.75" y="28.3" font-size="5.4" fill="#26a69a" textLength="18.1" lengthAdjust="spacingAndGlyphs" stroke="#26a69a" stroke-width="0.1" transform="rotate(0.03 18.75 28.3)">63.22M</text>
<text x="8.1" y="35.9" font-size="5.4" fill="#131722" textLength="36.6" lengthAdjust="spacingAndGlyphs" stroke="#131722" stroke-width="0.1" transform="rotate(0.03 8.1 35.9)">EMA (20, close)</text>
<text x="48.5" y="35.9" font-size="5.4" fill="#00bcd4" textLength="13.4" lengthAdjust="spacingAndGlyphs" stroke="#00bcd4" stroke-width="0.1" transform="rotate(0.03 48.5 35.9)">52.77</text>
<text x="8.1" y="43.55" font-size="5.4" fill="#131722" textLength="39.8" lengthAdjust="spacingAndGlyphs" stroke="#131722" stroke-width="0.1" transform="rotate(0.03 8.1 43.55)">EMA (200, close)</text>
<text x="51.25" y="43.55" font-size="5.4" fill="#3a3aff" textLength="13.2" lengthAdjust="spacingAndGlyphs" stroke="#3a3aff" stroke-width="0.1" transform="rotate(0.03 51.25 43.55)">64.33</text>
<text x="997.2" y="554.70" font-size="5.5" fill="#131722" textLength="13.6" lengthAdjust="spacingAndGlyphs" stroke="#131722" stroke-width="0.1" transform="rotate(0.03 997.2 554.70)">34.00</text>
<text x="997.2" y="535.58" font-size="5.5" fill="#131722" textLength="13.6" lengthAdjust="spacingAndGlyphs" stroke="#131722" stroke-width="0.1" transform="rotate(0.03 997.2 535.58)">36.00</text>
<text x="997.2" y="516.45" font-size="5.5" fill="#131722" textLength="13.6" lengthAdjust="spacingAndGlyphs" stroke="#131722" stroke-width="0.1" transform="rotate(0.03 997.2 516.45)">38.00</text>
<text x="997.2" y="497.32" font-size="5.5" fill="#131722" textLength="13.6" lengthAdjust="spacingAndGlyphs" stroke="#131722" stroke-width="0.1" transform="rotate(0.03 997.2 497.32)">40.00</text>
<text x="997.2" y="478.20" font-size="5.5" fill="#131722" textLength="13.6" lengthAdjust="spacingAndGlyphs" stroke="#131722" stroke-width="0.1" transform="rotate(0.03 997.2 478.20)">42.00</text>
<text x="997.2" y="459.07" font-size="5.5" fill="#131722" textLength="13.6" lengthAdjust="spacingAndGlyphs" stroke="#131722" stroke-width="0.1" transform="rotate(0.03 997.2 459.07)">44.00</text>
<text x="997.2" y="439.95" font-size="5.5" fill="#131722" textLength="13.6" lengthAdjust="spacingAndGlyphs" stroke="#131722" stroke-width="0.1" transform="rotate(0.03 997.2 439.95)">46.00</text>
<text x="997.2" y="420.82" font-size="5.5" fill="#131722" textLength="13.6" lengthAdjust="spacingAndGlyphs" stroke="#131722" stroke-width="0.1" transform="rotate(0.03 997.2 420.82)">48.00</text>
<text x="997.2" y="401.70" font-size="5.5" fill="#131722" textLength="13.6" lengthAdjust="spacingAndGlyphs" stroke="#131722" stroke-width="0.1" transform="rotate(0.03 997.2 401.70)">50.00</text>
<text x="997.2" y="382.57" font-size="5.5" fill="#131722" textLength="13.6" lengthAdjust="spacingAndGlyphs" stroke="#131722" stroke-width="0.1" transform="rotate(0.03 997.2 382.57)">52.00</text>
<text x="997.2" y="363.45" font-size="5.5" fill="#131722" textLength="13.6" lengthAdjust="spacingAndGlyphs" stroke="#131722" stroke-width="0.1" transform="rotate(0.03 997.2 363.45)">54.00</text>
<text x="997.2" y="344.32" font-size="5.5" fill="#131722" textLength="13.6" lengthAdjust="spacingAndGlyphs" stroke="#131722" stroke-width="0.1" transform="rotate(0.03 997.2 344.32)">56.00</text>
<text x="997.2" y="325.20" font-size="5.5" fill="#131722" textLength="13.6" lengthAdjust="spacingAndGlyphs" stroke="#131722" stroke-width="0.1" transform="rotate(0.03 997.2 325.20)">58.00</text>
<text x="997.2" y="306.07" font-size="5.5" fill="#131722" textLength="13.6" lengthAdjust="spacingAndGlyphs" stroke="#131722" stroke-width="0.1" transform="rotate(0.03 997.2 306.07)">60.00</text>
<text x="997.2" y="286.95" font-size="5.5" fill="#131722" textLength="13.6" lengthAdjust="spacingAndGlyphs" stroke="#131722" stroke-width="0.1" transform="rotate(0.03 997.2 286.95)">62.00</text>
<text x="997.2" y="267.82" font-size="5.5" fill="#131722" textLength="13.6" lengthAdjust="spacingAndGlyphs" stroke="#131722" stroke-width="0.1" transform="rotate(0.03 997.2 267.82)">64.00</text>
<text x="997.2" y="248.70" font-size="5.5" fill="#131722" textLength="13.6" lengthAdjust="spacingAndGlyphs" stroke="#131722" stroke-width="0.1" transform="rotate(0.03 997.2 248.70)">66.00</text>
<text x="997.2" y="229.57" font-size="5.5" fill="#131722" textLength="13.6" lengthAdjust="spacingAndGlyphs" stroke="#131722" stroke-width="0.1" transform="rotate(0.03 997.2 229.57)">68.00</text>
<text x="997.2" y="210.45" font-size="5.5" fill="#131722" textLength="13.6" lengthAdjust="spacingAndGlyphs" stroke="#131722" stroke-width="0.1" transform="rotate(0.03 997.2 210.45)">70.00</text>
<text x="997.2" y="191.32" font-size="5.5" fill="#131722" textLength="13.6" lengthAdjust="spacingAndGlyphs" stroke="#131722" stroke-width="0.1" transform="rotate(0.03 997.2 191.32)">72.00</text>
<text x="997.2" y="172.20" font-size="5.5" fill="#131722" textLength="13.6" lengthAdjust="spacingAndGlyphs" stroke="#131722" stroke-width="0.1" transform="rotate(0.03 997.2 172.20)">74.00</text>
<text x="997.2" y="153.07" font-size="5.5" fill="#131722" textLength="13.6" lengthAdjust="spacingAndGlyphs" stroke="#131722" stroke-width="0.1" transform="rotate(0.03 997.2 153.07)">76.00</text>
<text x="997.2" y="133.95" font-size="5.5" fill="#131722" textLength="13.6" lengthAdjust="spacingAndGlyphs" stroke="#131722" stroke-width="0.1" transform="rotate(0.03 997.2 133.95)">78.00</text>
<text x="997.2" y="114.83" font-size="5.5" fill="#131722" textLength="13.6" lengthAdjust="spacingAndGlyphs" stroke="#131722" stroke-width="0.1" transform="rotate(0.03 997.2 114.83)">80.00</text>
<text x="997.2" y="95.70" font-size="5.5" fill="#131722" textLength="13.6" lengthAdjust="spacingAndGlyphs" stroke="#131722" stroke-width="0.1" transform="rotate(0.03 997.2 95.70)">82.00</text>
<text x="997.2" y="76.58" font-size="5.5" fill="#131722" textLength="13.6" lengthAdjust="spacingAndGlyphs" stroke="#131722" stroke-width="0.1" transform="rotate(0.03 997.2 76.58)">84.00</text>
<text x="997.2" y="57.45" font-size="5.5" fill="#131722" textLength="13.6" lengthAdjust="spacingAndGlyphs" stroke="#131722" stroke-width="0.1" transform="rotate(0.03 997.2 57.45)">86.00</text>
<text x="997.2" y="38.33" font-size="5.5" fill="#131722" textLength="13.6" lengthAdjust="spacingAndGlyphs" stroke="#131722" stroke-width="0.1" transform="rotate(0.03 997.2 38.33)">88.00</text>
<text x="997.2" y="19.20" font-size="5.5" fill="#131722" textLength="13.6" lengthAdjust="spacingAndGlyphs" stroke="#131722" stroke-width="0.1" transform="rotate(0.03 997.2 19.20)">90.00</text>
<rect x="993.8" y="259.10" width="19.3" height="7.6" rx="0.8" fill="#3333ff"/>
<text x="996.55" y="264.90" font-size="5.5" fill="#fff" stroke="#fff" stroke-width="0.22" textLength="13.8" lengthAdjust="spacingAndGlyphs" transform="rotate(0.03 996.55 264.90)">64.33</text>
<rect x="993.8" y="369.60" width="19.3" height="7.6" rx="0.8" fill="#00bcd4"/>
<text x="996.55" y="375.40" font-size="5.5" fill="#0b2a33" stroke="#0b2a33" stroke-width="0.22" textLength="13.8" lengthAdjust="spacingAndGlyphs" transform="rotate(0.03 996.55 375.40)">52.77</text>
<rect x="993.8" y="451.75" width="19.3" height="7.6" rx="0.8" fill="#089981"/>
<text x="996.55" y="457.55" font-size="5.5" fill="#fff" stroke="#fff" stroke-width="0.22" textLength="13.8" lengthAdjust="spacingAndGlyphs" transform="rotate(0.03 996.55 457.55)">44.19</text>
<rect x="993.8" y="478.25" width="24.0" height="7.6" rx="0.8" fill="#169e89"/>
<text x="996.70" y="484.05" font-size="5.5" fill="#fff" stroke="#fff" stroke-width="0.22" textLength="18.2" lengthAdjust="spacingAndGlyphs" transform="rotate(0.03 996.70 484.05)">63.22M</text>
<text x="35.61" y="562.8" font-size="5.5" fill="#131722" textLength="8.2" lengthAdjust="spacingAndGlyphs" stroke="#131722" stroke-width="0.1" transform="rotate(0.03 35.61 562.8)">Jun</text>
<text x="119.13" y="562.8" font-size="5.5" fill="#131722" textLength="8.2" lengthAdjust="spacingAndGlyphs" stroke="#131722" stroke-width="0.1" transform="rotate(0.03 119.13 562.8)">Jul</text>
<text x="211.00" y="562.8" font-size="5.5" fill="#131722" textLength="8.2" lengthAdjust="spacingAndGlyphs" stroke="#131722" stroke-width="0.1" transform="rotate(0.03 211.00 562.8)">Aug</text>
<text x="298.70" y="562.8" font-size="5.5" fill="#131722" textLength="8.2" lengthAdjust="spacingAndGlyphs" stroke="#131722" stroke-width="0.1" transform="rotate(0.03 298.70 562.8)">Sep</text>
<text x="386.39" y="562.8" font-size="5.5" fill="#131722" textLength="8.2" lengthAdjust="spacingAndGlyphs" stroke="#131722" stroke-width="0.1" transform="rotate(0.03 386.39 562.8)">Oct</text>
<text x="482.44" y="562.8" font-size="5.5" fill="#131722" textLength="8.2" lengthAdjust="spacingAndGlyphs" stroke="#131722" stroke-width="0.1" transform="rotate(0.03 482.44 562.8)">Nov</text>
<text x="561.78" y="562.8" font-size="5.5" fill="#131722" textLength="8.2" lengthAdjust="spacingAndGlyphs" stroke="#131722" stroke-width="0.1" transform="rotate(0.03 561.78 562.8)">Dec</text>
<text x="651.96" y="562.8" font-size="5.5" fill="#131722" textLength="11.6" lengthAdjust="spacingAndGlyphs" stroke="#131722" stroke-width="0.1" transform="rotate(0.03 651.96 562.8)">2026</text>
<text x="737.18" y="562.8" font-size="5.5" fill="#131722" textLength="8.2" lengthAdjust="spacingAndGlyphs" stroke="#131722" stroke-width="0.1" transform="rotate(0.03 737.18 562.8)">Feb</text>
<text x="816.52" y="562.8" font-size="5.5" fill="#131722" textLength="8.2" lengthAdjust="spacingAndGlyphs" stroke="#131722" stroke-width="0.1" transform="rotate(0.03 816.52 562.8)">Mar</text>
<text x="908.39" y="562.8" font-size="5.5" fill="#131722" textLength="8.2" lengthAdjust="spacingAndGlyphs" stroke="#131722" stroke-width="0.1" transform="rotate(0.03 908.39 562.8)">Apr</text>
<circle cx="40.06" cy="548.5" r="4.35" fill="#fff" stroke="#5b7bff" stroke-width="1.15"/>
<text x="40.06" y="550.45" font-size="5.4" fill="#4c6bff" text-anchor="middle" textLength="3.0" lengthAdjust="spacingAndGlyphs" stroke="#4c6bff" stroke-width="0.1" transform="rotate(0.03 40.06 550.45)">D</text>
<circle cx="303.15" cy="548.5" r="4.35" fill="#fff" stroke="#5b7bff" stroke-width="1.15"/>
<text x="303.15" y="550.45" font-size="5.4" fill="#4c6bff" text-anchor="middle" textLength="3.0" lengthAdjust="spacingAndGlyphs" stroke="#4c6bff" stroke-width="0.1" transform="rotate(0.03 303.15 550.45)">D</text>
<circle cx="566.23" cy="548.5" r="4.35" fill="#fff" stroke="#5b7bff" stroke-width="1.15"/>
<text x="566.23" y="550.45" font-size="5.4" fill="#4c6bff" text-anchor="middle" textLength="3.0" lengthAdjust="spacingAndGlyphs" stroke="#4c6bff" stroke-width="0.1" transform="rotate(0.03 566.23 550.45)">D</text>
<circle cx="820.97" cy="548.5" r="4.35" fill="#fff" stroke="#5b7bff" stroke-width="1.15"/>
<text x="820.97" y="550.45" font-size="5.4" fill="#4c6bff" text-anchor="middle" textLength="3.0" lengthAdjust="spacingAndGlyphs" stroke="#4c6bff" stroke-width="0.1" transform="rotate(0.03 820.97 550.45)">D</text>
<path d="M107.10 552.3V546.7L110.85 544.4L114.60 546.7V552.3z" fill="#fff" stroke="#22ab94" stroke-width="1.0" stroke-linejoin="round"/>
<path d="M107.10 552.45H114.60" stroke="#1b9c86" stroke-width="0.9"/>
<text x="110.85" y="551.0" font-size="4.6" fill="#22ab94" text-anchor="middle" stroke="#22ab94" stroke-width="0.1" transform="rotate(0.03 110.85 551.0)">E</text>
<path d="M382.72 552.3V546.7L386.47 544.4L390.22 546.7V552.3z" fill="#fff" stroke="#22ab94" stroke-width="1.0" stroke-linejoin="round"/>
<path d="M382.72 552.45H390.22" stroke="#1b9c86" stroke-width="0.9"/>
<text x="386.47" y="551.0" font-size="4.6" fill="#22ab94" text-anchor="middle" stroke="#22ab94" stroke-width="0.1" transform="rotate(0.03 386.47 551.0)">E</text>
<path d="M616.57 552.3V546.7L620.32 544.4L624.07 546.7V552.3z" fill="#fff" stroke="#22ab94" stroke-width="1.0" stroke-linejoin="round"/>
<path d="M616.57 552.45H624.07" stroke="#1b9c86" stroke-width="0.9"/>
<text x="620.32" y="551.0" font-size="4.6" fill="#22ab94" text-anchor="middle" stroke="#22ab94" stroke-width="0.1" transform="rotate(0.03 620.32 551.0)">E</text>
<circle cx="916.8" cy="548.7" r="4.45" fill="#fff" stroke="#b35cc4" stroke-width="0.95"/>
<path d="M918.0 546.1L914.8 549.3H916.5999999999999L915.5999999999999 551.4L918.8 548.1H917.0z" fill="#b35cc4"/>
<path d="M911.6 547.9L913.9 550.2L911.6 552.5L909.3 550.2z" fill="#5b5bff" stroke="#fff" stroke-width="0.7"/>
<g transform="translate(5.15,575.25) scale(0.383)" fill="#131722"><path d="M14 22H7V11H0V4h14v18zM28 22h-8l7.5-18h8L28 22z"/><circle cx="20" cy="8" r="4"/></g>
<text x="22" y="583.6" font-size="9.3" font-weight="bold" fill="#131722" stroke="none" textLength="54.4" lengthAdjust="spacingAndGlyphs" transform="rotate(0.03 22 583.6)">TradingView</text>
</svg></body></html>
